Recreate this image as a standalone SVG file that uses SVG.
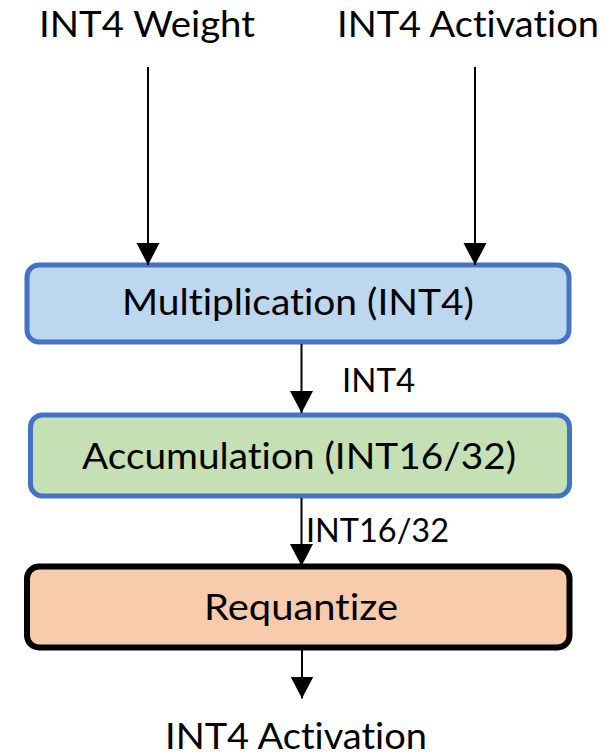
<svg xmlns="http://www.w3.org/2000/svg" width="616" height="756" viewBox="0 0 616 756">
  <style>
    .t { font-family: Lato, "Open Sans", "Liberation Sans", sans-serif; fill: #000; font-variant-ligatures: none; font-feature-settings: "liga" 0, "clig" 0; }
    .big { font-size: 37px; }
    .lbl { font-size: 33px; }
    .wire { stroke: #000; stroke-width: 2; fill: none; }
    .box { stroke-linejoin: round; }
  </style>
  <defs>
    <marker id="arrow" markerUnits="userSpaceOnUse" markerWidth="24" markerHeight="24" viewBox="0 0 24 24" refX="22" refY="12" orient="auto">
      <path d="M0,0.5 L22,12 L0,23.5 Z" fill="#000"/>
    </marker>
  </defs>

  <!-- input labels -->
  <g id="in-weight">
    <text class="t big" x="147" y="37" text-anchor="middle" textLength="216" lengthAdjust="spacingAndGlyphs">INT4 Weight</text>
  </g>
  <g id="in-activation">
    <text class="t big" x="468" y="37" text-anchor="middle" textLength="262" lengthAdjust="spacingAndGlyphs">INT4 Activation</text>
  </g>

  <!-- processing stages -->
  <g id="multiplication">
    <rect class="box" x="27" y="265" width="542" height="77" rx="12" fill="#BDD7EE" stroke="#4472C4" stroke-width="5"/>
    <text class="t big" x="298" y="315" text-anchor="middle" textLength="352" lengthAdjust="spacingAndGlyphs">Multiplication (INT4)</text>
  </g>
  <g id="accumulation">
    <rect class="box" x="30.5" y="415" width="539" height="81" rx="12" fill="#C5E0B4" stroke="#4472C4" stroke-width="5"/>
    <text class="t big" x="299" y="468.5" text-anchor="middle" textLength="434" lengthAdjust="spacingAndGlyphs">Accumulation (INT16/32)</text>
  </g>
  <g id="requantize">
    <rect class="box" x="27" y="566.5" width="542.5" height="81" rx="12" fill="#F8CBAD" stroke="#000" stroke-width="6"/>
    <text class="t big" x="301" y="620" text-anchor="middle" textLength="194" lengthAdjust="spacingAndGlyphs">Requantize</text>
  </g>

  <!-- output label -->
  <g id="out-activation">
    <text class="t big" x="296" y="749" text-anchor="middle" textLength="262" lengthAdjust="spacingAndGlyphs">INT4 Activation</text>
  </g>

  <!-- connectors -->
  <g id="connectors">
    <line class="wire" x1="148" y1="67" x2="148" y2="265" marker-end="url(#arrow)"/>
    <line class="wire" x1="475" y1="67" x2="475" y2="265" marker-end="url(#arrow)"/>
    <line class="wire" x1="301.5" y1="344" x2="301.5" y2="413" marker-end="url(#arrow)"/>
    <line class="wire" x1="301.5" y1="498" x2="301.5" y2="566" marker-end="url(#arrow)"/>
    <line class="wire" x1="302" y1="650" x2="302" y2="698.5" marker-end="url(#arrow)"/>
    <text class="t lbl" x="342" y="392" textLength="73" lengthAdjust="spacingAndGlyphs">INT4</text>
    <text class="t lbl" x="306" y="541.5" textLength="143" lengthAdjust="spacingAndGlyphs">INT16/32</text>
  </g>
</svg>
